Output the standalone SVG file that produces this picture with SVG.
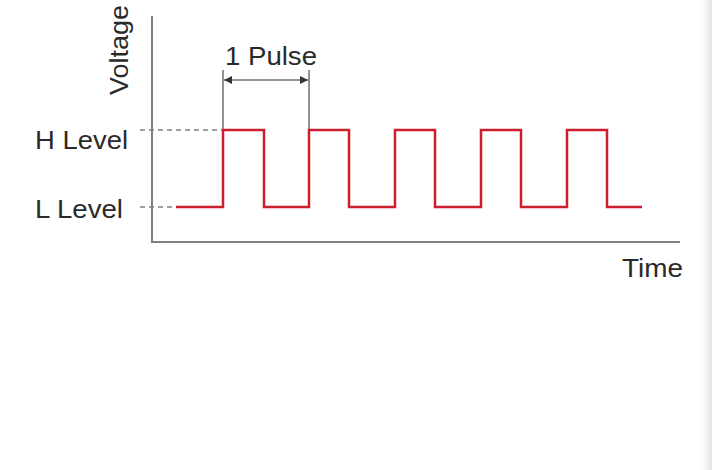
<svg xmlns="http://www.w3.org/2000/svg" width="712" height="470" viewBox="0 0 712 470">
<defs>
<style>
.t{font-family:"Liberation Sans",Arial,sans-serif;font-size:26px;fill:#2a2a2a}
.ax{stroke:#808080;stroke-width:2;fill:none}
.dash{stroke:#808080;stroke-width:1.5;stroke-dasharray:5,4;fill:none}
.sig{stroke:#cc1f2d;stroke-width:2.5;fill:none}
.mk{stroke:#707070;stroke-width:1.5;fill:none}
</style>
<linearGradient id="edge" x1="0" x2="1" y1="0" y2="0">
<stop offset="0" stop-color="#ffffff" stop-opacity="0"/>
<stop offset="1" stop-color="#e2e2e2"/>
</linearGradient>
<marker id="ah" viewBox="0 0 10 10" refX="10" refY="5" markerWidth="10" markerHeight="8" markerUnits="userSpaceOnUse" orient="auto-start-reverse">
<path d="M0,0 L10,5 L0,10 Z" fill="#333"/>
</marker>
</defs>
<rect width="712" height="470" fill="#ffffff"/>
<rect x="696" y="0" width="16" height="470" fill="url(#edge)"/>
<g id="axes">
<path class="ax" d="M152,16 V242 H680"/>
</g>
<g id="labels">
<text class="t" transform="translate(128,50) rotate(-90)" x="-45" textLength="90" lengthAdjust="spacingAndGlyphs">Voltage</text>
<text class="t" x="622" y="277" textLength="61" lengthAdjust="spacingAndGlyphs">Time</text>
<text class="t" x="35" y="149" textLength="93" lengthAdjust="spacingAndGlyphs">H Level</text>
<text class="t" x="35" y="218" textLength="88" lengthAdjust="spacingAndGlyphs">L Level</text>
<text class="t" x="225" y="65" textLength="92" lengthAdjust="spacingAndGlyphs">1 Pulse</text>
</g>
<g id="connectors">
<path class="dash" d="M140,130 H222"/>
<path class="dash" d="M140,207 H222"/>
<path class="mk" d="M223,70 V130 M309,70 V130"/>
<path class="mk" d="M224,80 H308" marker-start="url(#ah)" marker-end="url(#ah)"/>
</g>
<g id="signal">
<path class="sig" d="M176,207 H223 V130 H264 V207 H309 V130 H349 V207 H395 V130 H435 V207 H481 V130 H521 V207 H567 V130 H607 V207 H642"/>
</g>
</svg>
